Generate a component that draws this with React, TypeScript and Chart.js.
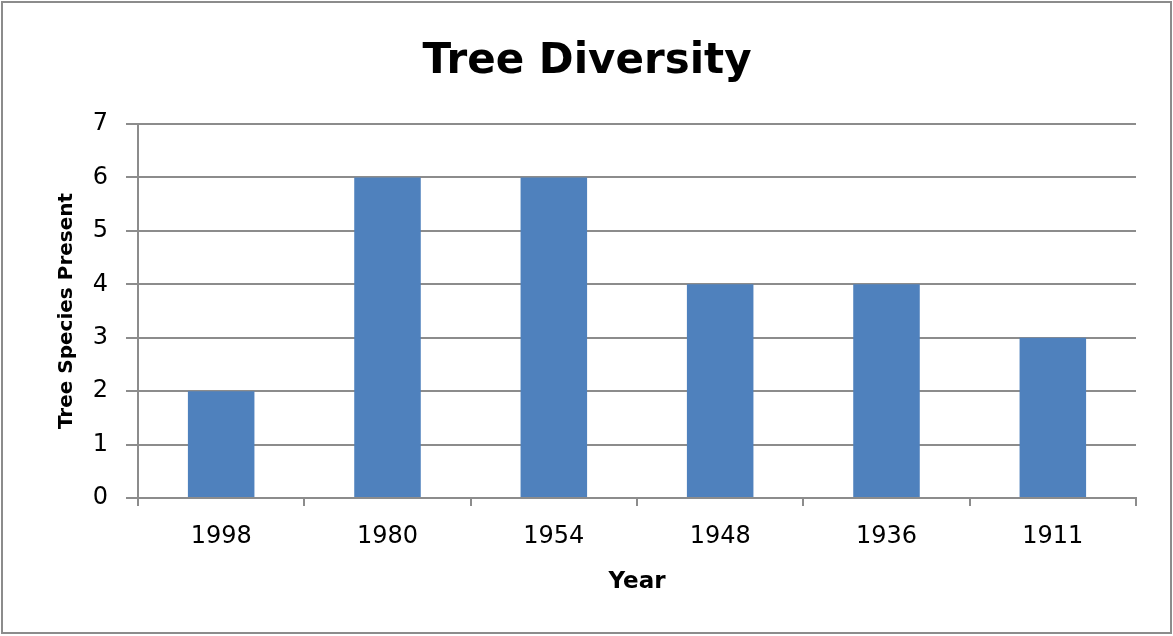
import { useEffect, useRef } from "react";
import { Chart, registerables } from "chart.js";

Chart.register(...registerables);

// Chart content
const chartTitle = "Tree Diversity";
const xAxisTitle = "Year";
const yAxisTitle = "Tree Species Present";
const years = ["1998", "1980", "1954", "1948", "1936", "1911"];
const speciesCounts = [2, 6, 6, 4, 4, 3];
const yTickValues = [0, 1, 2, 3, 4, 5, 6, 7];

const WIDTH = 1173;
const HEIGHT = 636;
const GRID = "#8c8c8c";
const BAR = "#4f81bd";
const FONT = "'DejaVu Sans', sans-serif";

// White background and the grey frame around the whole chart
const chartFrame = {
  id: "chartFrame",
  beforeDraw(chart: any) {
    const { ctx } = chart;
    ctx.save();
    ctx.fillStyle = "#ffffff";
    ctx.fillRect(0, 0, chart.width, chart.height);
    ctx.restore();
  },
  afterDraw(chart: any) {
    const { ctx } = chart;
    ctx.save();
    ctx.strokeStyle = GRID;
    ctx.lineWidth = 2;
    ctx.strokeRect(2, 2, 1169, 631);
    ctx.restore();
  },
};

export default function App() {
  const canvasRef = useRef<HTMLCanvasElement | null>(null);

  useEffect(() => {
    const canvas = canvasRef.current;
    if (!canvas) return;
    const chart = new Chart(canvas, {
      type: "bar",
      data: {
        labels: years,
        datasets: [
          {
            label: yAxisTitle,
            data: speciesCounts,
            backgroundColor: BAR,
            borderWidth: 0,
            categoryPercentage: 1,
            barPercentage: 0.4,
          },
        ],
      },
      options: {
        responsive: false,
        animation: false,
        devicePixelRatio: 1,
        layout: { padding: { top: 37, right: 37, bottom: 0, left: 38 } },
        plugins: {
          legend: { display: false },
          tooltip: { enabled: false },
          title: {
            display: true,
            text: chartTitle,
            color: "#000000",
            font: { family: FONT, size: 42, weight: "bold", lineHeight: 1.2 },
            padding: { top: 0, bottom: 36.6 },
          },
        },
        scales: {
          x: {
            type: "category",
            offset: true,
            border: { display: true, color: GRID, width: 2 },
            grid: {
              display: true,
              offset: true,
              drawOnChartArea: false,
              drawTicks: true,
              tickLength: 8,
              color: GRID,
              lineWidth: 2,
            },
            ticks: {
              color: "#000000",
              font: { family: FONT, size: 24 },
              padding: 16,
              maxRotation: 0,
            },
            title: {
              display: true,
              text: xAxisTitle,
              color: "#000000",
              font: { family: FONT, size: 23, weight: "bold", lineHeight: 1.2 },
              padding: { top: 0, bottom: 40 },
            },
            afterFit(scale: any) {
              scale.height = HEIGHT - 498;
            },
          },
          y: {
            min: 0,
            max: 7,
            border: { display: true, color: GRID, width: 2 },
            grid: {
              color: GRID,
              lineWidth: 2,
              drawTicks: true,
              tickLength: 12,
            },
            ticks: {
              color: "#000000",
              font: { family: FONT, size: 24 },
              padding: 18,
              stepSize: 1,
            },
            afterBuildTicks(scale: any) {
              scale.ticks = yTickValues.map((v) => ({ value: v }));
            },
            title: {
              display: true,
              text: yAxisTitle,
              color: "#000000",
              font: { family: FONT, size: 20, weight: "bold", lineHeight: 1.2 },
              padding: { top: 17, bottom: 0 },
            },
            afterFit(scale: any) {
              scale.width = 100;
            },
          },
        },
      },
      plugins: [chartFrame],
    });
    return () => chart.destroy();
  }, []);

  return (
    <div style={{ position: "absolute", left: 0, top: 0, width: WIDTH, height: HEIGHT }}>
      <canvas ref={canvasRef} width={WIDTH} height={HEIGHT} style={{ display: "block" }} />
    </div>
  );
}
